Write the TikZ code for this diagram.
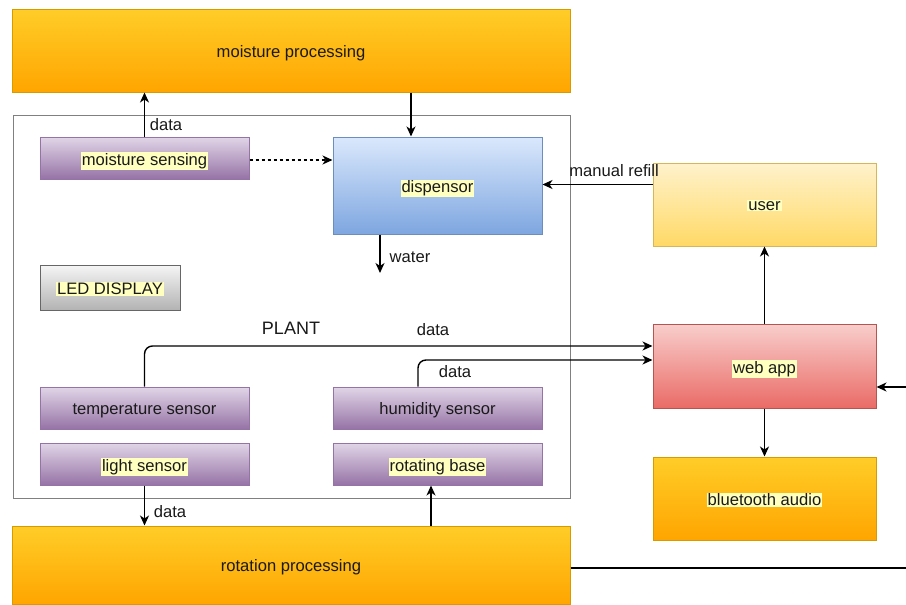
\documentclass[tikz,border=0pt]{standalone}
\usepackage{fontspec}
\setmainfont{Liberation Sans}
\usetikzlibrary{arrows.meta}

\definecolor{orangetop}{HTML}{FFCD28}
\definecolor{orangebot}{HTML}{FFA500}
\definecolor{orangeline}{HTML}{D79B00}
\definecolor{purpletop}{HTML}{E1D5E7}
\definecolor{purplebot}{HTML}{9673A6}
\definecolor{bluetop}{HTML}{DAE8FC}
\definecolor{bluebot}{HTML}{7EA6E0}
\definecolor{blueline}{HTML}{6C8EBF}
\definecolor{graytop}{HTML}{F5F5F5}
\definecolor{graybot}{HTML}{B3B3B3}
\definecolor{grayline}{HTML}{666666}
\definecolor{yellowtop}{HTML}{FFF2CC}
\definecolor{yellowbot}{HTML}{FFD966}
\definecolor{yellowline}{HTML}{D6B656}
\definecolor{redtop}{HTML}{F8CECC}
\definecolor{redbot}{HTML}{EA6B66}
\definecolor{redline}{HTML}{B85450}
\definecolor{hlyellow}{HTML}{FFFFC0}
\definecolor{textdark}{HTML}{1A1A1A}

\newcommand{\hltext}[1]{{\setlength{\fboxsep}{1pt}\colorbox{hlyellow}{#1}}}

\begin{document}
\begin{tikzpicture}
    [
        x=1pt, y=-1pt,
        font=\fontsize{16.6}{20}\selectfont, text=textdark,
        box/.style={rectangle, draw, line width=1pt, inner sep=0pt, minimum width=209pt, minimum height=42pt, text depth=0pt, yshift=-1.5pt},
        procbox/.style={box, draw=orangeline, top color=orangetop, bottom color=orangebot},
        sensor/.style={box, draw=purplebot, top color=purpletop, bottom color=purplebot},
        lbl/.style={inner sep=0pt},
        link/.style={draw=black, line width=1.4pt, -{Stealth[length=10pt, width=9pt, inset=3pt]}},
    ]
    \useasboundingbox (0,0) rectangle (906,605);

    \node (plant) at (291.5,306.5) [rectangle, draw=gray, line width=1pt, fill=white, minimum width=557pt, minimum height=383pt] {};
    \node (plantlbl) at (291,328) [lbl, font=\fontsize{18}{22}\selectfont] {PLANT};

    \node (mproc) at (291,50.5) [procbox, minimum width=558pt, minimum height=83pt, yshift=1.5pt] {\raisebox{-1.5pt}{moisture processing}};
    \node (rproc) at (291,565) [procbox, minimum width=558pt, minimum height=78pt, yshift=1.5pt] {\raisebox{-1.5pt}{rotation processing}};

    \node (msense) at (144.5,158) [sensor, yshift=1.5pt] {\raisebox{-1.5pt}{\hltext{moisture sensing}}};
    \node (disp) at (437.5,185.5) [box, draw=blueline, top color=bluetop, bottom color=bluebot, minimum height=97pt, yshift=1.5pt] {\raisebox{-1.5pt}{\hltext{dispensor}}};
    \node (led) at (110,287.5) [box, draw=grayline, top color=graytop, bottom color=graybot, minimum width=140pt, minimum height=45pt, yshift=1.5pt] {\raisebox{-1.5pt}{\hltext{LED DISPLAY}}};
    \node (temp) at (144.5,408) [sensor, yshift=1.5pt] {\raisebox{-1.5pt}{temperature sensor}};
    \node (humid) at (437.5,408) [sensor, yshift=1.5pt] {\raisebox{-1.5pt}{humidity sensor}};
    \node (light) at (144.5,464) [sensor, yshift=1.5pt] {\raisebox{-1.5pt}{\hltext{light sensor}}};
    \node (rotbase) at (437.5,464) [sensor, yshift=1.5pt] {\raisebox{-1.5pt}{\hltext{rotating base}}};

    \node (user) at (764.5,204.5) [box, draw=yellowline, top color=yellowtop, bottom color=yellowbot, minimum width=223pt, minimum height=83pt, yshift=1.5pt] {\raisebox{-1.5pt}{\hltext{user}}};
    \node (webapp) at (764.5,366) [box, draw=redline, top color=redtop, bottom color=redbot, minimum width=223pt, minimum height=84pt, yshift=1.5pt] {\raisebox{-1.5pt}{\hltext{web app}}};
    \node (bt) at (764.5,498.5) [procbox, minimum width=223pt, minimum height=83pt, yshift=1.5pt] {\raisebox{-1.5pt}{\hltext{bluetooth audio}}};

    % plant side
    \draw [link] (msense.north) -- (msense.north |- mproc.south);
    \draw [link] (411,0 |- mproc.south) -- (411,0 |- disp.north);
    \draw [link, dashed] ([yshift=-2pt]msense.east) -- ([yshift=-2pt]msense.east -| disp.west);
    \coordinate (waterend) at (380,273);
    \draw [link] (waterend |- disp.south) -- (waterend);
    \draw [link] (light.south) -- (light.south |- rproc.north);
    \draw [link] (431,0 |- rproc.north) -- (431,0 |- rotbase.south);

    % sensors to web app
    \coordinate (tempin) at ([yshift=20pt]webapp.west);
    \coordinate (humidin) at ([yshift=6pt]webapp.west);
    \coordinate (humidout) at (418,0 |- humid.north);
    \draw [link, rounded corners=8pt] (temp.north) |- (tempin);
    \draw [link, rounded corners=8pt] (humidout) |- (humidin);

    % user side
    \coordinate (refill) at ([yshift=20pt]user.west);
    \draw [link] (refill) -- (refill -| disp.east);
    \draw [link] (webapp.north) -- (user.south);
    \draw [link] (webapp.south) -- (bt.north);
    \coordinate (offpage) at (940,0);
    \coordinate (rotout) at ([yshift=-3pt]rproc.east);
    \coordinate (rotin) at ([yshift=-21pt]webapp.east);
    \draw [link] (rotout) -- (rotout -| offpage) |- (rotin);

    % labels
    \node (datam) at (166,125) [lbl] {data};
    \node (water) at (410,257) [lbl] {water};
    \node (refilllbl) at (614,171) [lbl] {manual refill};
    \node (datat) at (433,330) [lbl] {data};
    \node (datah) at (455,372) [lbl] {data};
    \node (datal) at (170,512) [lbl] {data};
\end{tikzpicture}
\end{document}
